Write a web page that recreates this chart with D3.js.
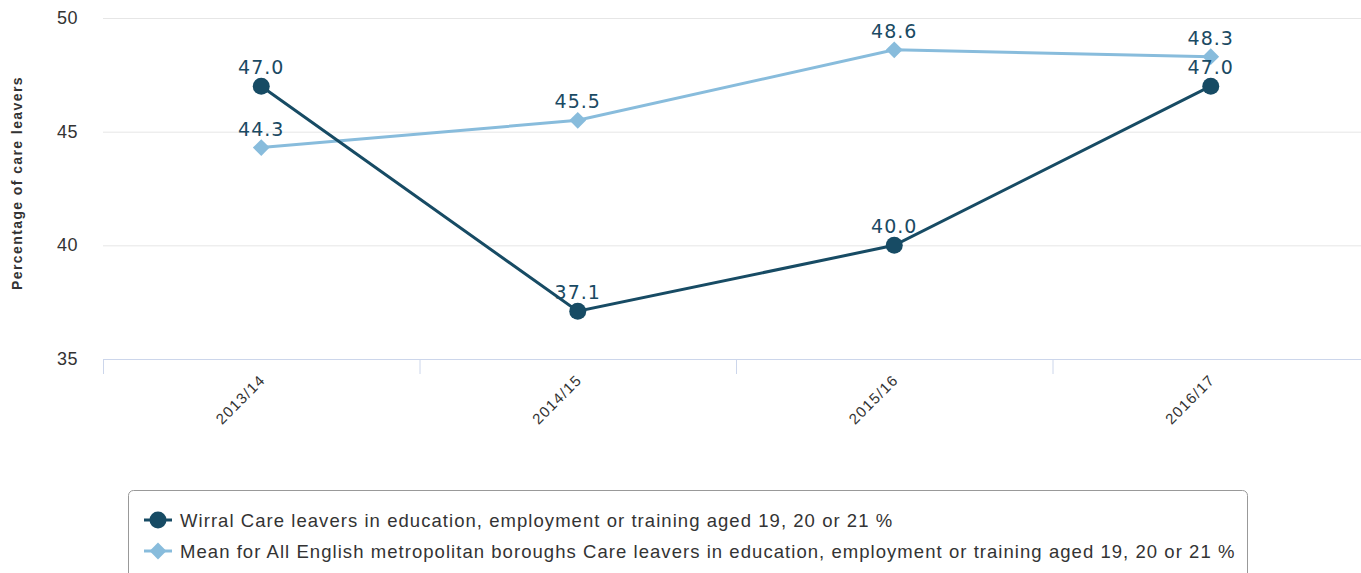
<!DOCTYPE html>
<html><head><meta charset="utf-8">
<script src="https://cdn.jsdelivr.net/npm/d3@7"></script>
<style>body{margin:0;background:#fff;}svg{display:block;}</style>
</head><body><svg id="c" width="1361" height="573"></svg>
<script>
const categories = ["2013/14","2014/15","2015/16","2016/17"];
const wirral = [47.0, 37.1, 40.0, 47.0];
const meanMet = [44.3, 45.5, 48.6, 48.3];
const yTicks = [35, 40, 45, 50];
const seriesNames = ["Wirral Care leavers in education, employment or training aged 19, 20 or 21 %",
  "Mean for All English metropolitan boroughs Care leavers in education, employment or training aged 19, 20 or 21 %"];
const yTitle = "Percentage of care leavers";

const svg = d3.select("#c");
const x = d3.scaleBand().domain(categories).range([103, 1369]);
const y = d3.scaleLinear().domain([35, 50]).range([359, 18]);
const dark = "#174b64", light = "#88bcdc";
const sans = "Liberation Sans, Arial, sans-serif";

// grid
svg.append("g").selectAll("line").data(yTicks.filter(d=>d>35)).join("line")
  .attr("x1",103).attr("x2",1361).attr("y1",d=>y(d)+0.5).attr("y2",d=>y(d)+0.5)
  .attr("stroke","#e6e6e6").attr("stroke-width",1);
// y labels
svg.append("g").selectAll("text").data(yTicks).join("text")
  .attr("x",78).attr("y",d=>y(d)+6).attr("text-anchor","end")
  .attr("font-family",sans).attr("font-size",18).attr("letter-spacing",0.5).attr("fill","#333")
  .text(d=>d);
// y title
svg.append("text").attr("transform","translate(22,183) rotate(-90)").attr("text-anchor","middle")
  .attr("font-family",sans).attr("font-size",14).attr("font-weight","bold").attr("letter-spacing",1.4).attr("fill","#333")
  .text(yTitle);
// x axis line
svg.append("line").attr("x1",103).attr("x2",1361).attr("y1",y(35)+0.5).attr("y2",y(35)+0.5).attr("stroke","#ccd6eb");
const bounds = categories.map(c=>x(c)).concat([x.range()[1]]);
svg.append("g").selectAll("line").data(bounds).join("line")
  .attr("x1",d=>d+0.5).attr("x2",d=>d+0.5).attr("y1",y(35)).attr("y2",y(35)+15).attr("stroke","#ccd6eb");
// x labels
svg.append("g").selectAll("text").data(categories).join("text")
  .attr("transform",d=>`translate(${x(d)+x.bandwidth()/2+5},${y(35)+22}) rotate(-45)`)
  .attr("text-anchor","end")
  .attr("font-family",sans).attr("font-size",15).attr("letter-spacing",1.2).attr("fill","#333")
  .text(d=>d);

const cx = d=>x(d)+x.bandwidth()/2;
const line = d3.line().x((d,i)=>cx(categories[i])).y(d=>y(d));
// light series
svg.append("path").datum(meanMet).attr("d",line).attr("fill","none").attr("stroke",light).attr("stroke-width",3);
const diamond = d3.symbol().type(d3.symbolDiamond2).size(180);
svg.append("g").selectAll("path").data(meanMet).join("path")
  .attr("transform",(d,i)=>`translate(${cx(categories[i])},${y(d)})`).attr("d",diamond).attr("fill",light);
// dark series
svg.append("path").datum(wirral).attr("d",line).attr("fill","none").attr("stroke",dark).attr("stroke-width",3);
svg.append("g").selectAll("circle").data(wirral).join("circle")
  .attr("cx",(d,i)=>cx(categories[i])).attr("cy",d=>y(d)).attr("r",8.5).attr("fill",dark);

// data labels
function labels(data){
  svg.append("g").selectAll("text").data(data).join("text")
    .attr("x",(d,i)=>cx(categories[i])).attr("y",d=>y(d)-12).attr("text-anchor","middle")
    .attr("font-family","DejaVu Sans, sans-serif").attr("font-size",19).attr("letter-spacing",1).attr("fill","#1a4a63")
    .text(d=>d.toFixed(1));
}
labels(meanMet);
labels(wirral);

// legend
svg.append("rect").attr("x",128.5).attr("y",490.5).attr("width",1119).attr("height",100).attr("rx",5)
  .attr("fill","none").attr("stroke","#999");
const lg = svg.append("g");
seriesNames.forEach((n,i)=>{
  const yy = 520 + i*31;
  const col = i===0?dark:light;
  lg.append("line").attr("x1",144).attr("x2",172).attr("y1",yy).attr("y2",yy).attr("stroke",col).attr("stroke-width",3);
  if(i===0) lg.append("circle").attr("cx",158).attr("cy",yy).attr("r",8.5).attr("fill",col);
  else lg.append("path").attr("transform",`translate(158,${yy})`).attr("d",diamond).attr("fill",col);
  lg.append("text").attr("x",180).attr("y",yy+7).attr("font-family",sans)
    .attr("font-size",18.5).attr("letter-spacing",1.05).attr("fill","#333").text(n);
});
</script></body></html>
